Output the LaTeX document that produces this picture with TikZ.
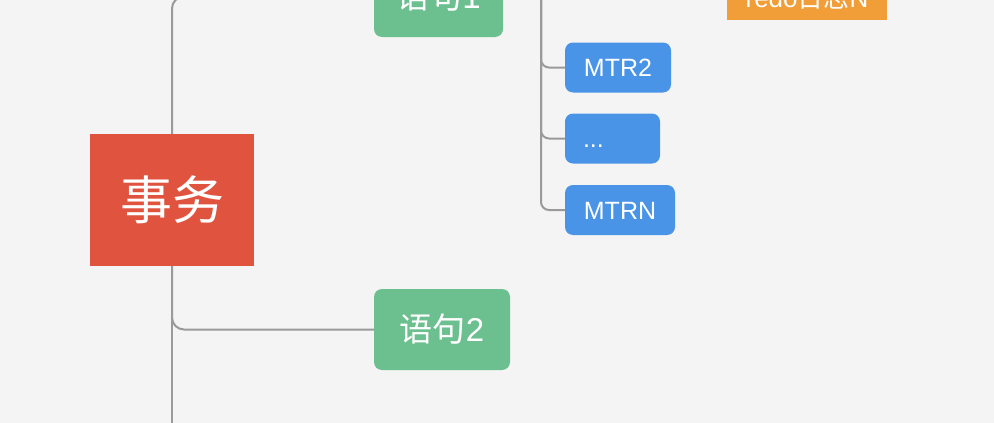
\documentclass[tikz,border=0pt]{standalone}
\usepackage{fontspec}
\setmainfont{Liberation Sans}
\newfontfamily\cjk{Noto Sans CJK SC}
\definecolor{bggray}{HTML}{F4F4F4}
\definecolor{topicred}{HTML}{E0533F}
\definecolor{stmtgreen}{HTML}{6CBF8E}
\definecolor{mtrblue}{HTML}{4A94E8}
\definecolor{redoorange}{HTML}{F19E38}
\definecolor{linkgray}{HTML}{9A9A9A}
\begin{document}
\begin{tikzpicture}[x=1pt,y=-1pt,
		topic/.style={fill=topicred,text=white,minimum width=164pt,minimum height=132pt,inner sep=0pt,font=\cjk\fontsize{52}{60}\selectfont},
		stmt/.style={fill=stmtgreen,text=white,rounded corners=8pt,minimum height=81pt,inner sep=0pt,font=\fontsize{33}{40}\selectfont},
		mtr/.style={fill=mtrblue,text=white,rounded corners=8pt,minimum height=50pt,inner sep=0pt,text height=18pt,text depth=0pt,font=\fontsize{25}{30}\selectfont},
		redo/.style={fill=redoorange,text=white,minimum width=160pt,minimum height=46pt,inner sep=0pt,font=\fontsize{26}{31}\selectfont},
		link/.style={draw=linkgray,line width=2pt,rounded corners=12pt},]

\useasboundingbox (0,0) rectangle (994,423);
\fill[bggray] (0,0) rectangle (994,423);
\clip (0,0) rectangle (994,423);

\node[topic] (shiwu) at (172,200) {\raisebox{-4pt}{事务}};
\node[stmt,minimum width=129pt] (yuju1) at (438.5,-3.5) {{\cjk 语句}1};
\node[stmt,minimum width=136pt] (yuju2) at (442,329.5) {{\cjk 语句}2};
\node[mtr,minimum width=106pt] (mtr2) at (618,67.5) {MTR2};
\node[mtr,minimum width=95pt,text width=59pt,align=left] (mtrdots) at (612.5,138.5) {...};
\node[mtr,minimum width=110pt] (mtrn) at (620,210) {MTRN};
\node[redo] (redon) at (807,-3) {redo{\cjk 日志}N};

\coordinate (shiwudown) at (172,440);
\coordinate (mtrtop) at (541,-40);

\draw[link] (shiwu.north) |- (yuju1.west);
\draw[link] (shiwu.south) |- (yuju2.west);
\draw[link] (shiwu.south) -- (shiwudown);
\foreach \m in {mtr2,mtrdots,mtrn}
	\draw[link,rounded corners=8pt] (mtrtop) |- (\m.west);
\end{tikzpicture}
\end{document}
